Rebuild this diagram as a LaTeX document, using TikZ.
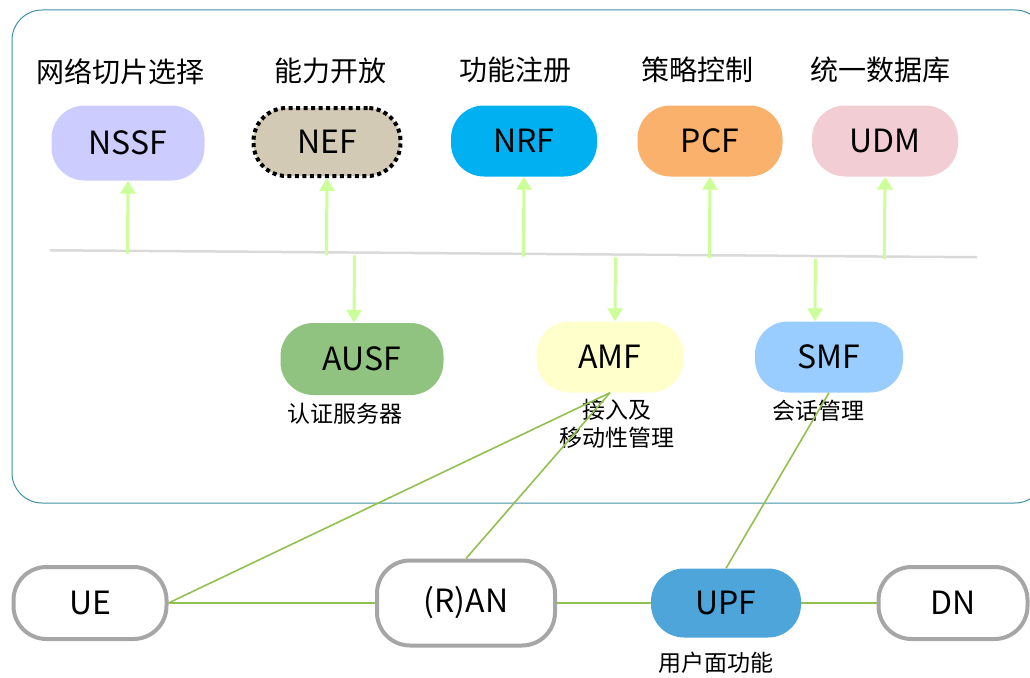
\documentclass[tikz,border=0pt]{standalone}
\usepackage{fontspec}
\setmainfont{Noto Sans CJK SC}
\usepackage{tikz}
\usetikzlibrary{arrows.meta,positioning,calc}
\definecolor{frameblue}{HTML}{3D8FA6}
\definecolor{linkgreen}{HTML}{92C050}
\definecolor{arrowgreen}{HTML}{CCFF99}
\definecolor{nssfcol}{HTML}{CCCCFF}
\definecolor{nefcol}{HTML}{D3CAB5}
\definecolor{nrfcol}{HTML}{00B0F0}
\definecolor{pcfcol}{HTML}{F9B16B}
\definecolor{udmcol}{HTML}{F2CED4}
\definecolor{ausfcol}{HTML}{90C280}
\definecolor{amfcol}{HTML}{FFFFCC}
\definecolor{smfcol}{HTML}{99CCFF}
\definecolor{upfcol}{HTML}{4EA5D9}
\definecolor{edgegray}{HTML}{A6A6A6}

\begin{document}
\begin{tikzpicture}[x=1pt,y=-1pt,% pixel-like units, y grows downward
			every node/.style={
				align=center,		% so that "\\" breaks lines
				inner sep=0pt
			},
			nf/.style={
				rectangle,rounded corners=33pt,
				minimum width=147pt,minimum height=71pt,
				font=\fontsize{32}{34}\selectfont
			},
			endpt/.style={
				nf,draw=edgegray,line width=4pt,fill=white
			},
			caption/.style={font=\fontsize{28}{30}\selectfont},
			subcaption/.style={font=\fontsize{23}{28}\selectfont},
			feed/.style={draw=arrowgreen,line width=3pt,
				-{Triangle[length=13pt,width=15pt]}},
			link/.style={draw=linkgreen,line width=1.6pt},
			trunk/.style={draw=linkgreen,line width=2.6pt}
		]
		\useasboundingbox (0,0) rectangle (1030,677);
		% control plane frame
		\draw[frameblue,line width=1pt,rounded corners=30pt] (12,10) rectangle (1045,503);

		% top row of network functions
		\node[nf,fill=nssfcol,minimum width=153pt,minimum height=75pt](nssf) at (128,143){NSSF};
		\node[nf,fill=nefcol,draw=black,line width=4pt,dash pattern=on 4pt off 3.5pt,
			minimum width=147pt,minimum height=68pt](nef) at (327,142){NEF};
		\node[nf,fill=nrfcol,minimum width=146pt](nrf) at (524,141){NRF};
		\node[nf,fill=pcfcol,minimum width=145pt](pcf) at (710,141){PCF};
		\node[nf,fill=udmcol,minimum width=146pt](udm) at (885,141){UDM};

		\node[caption](l1)[above=20pt of nssf,xshift=-8pt]{网络切片选择};
		\node[caption](l2)[above=22pt of nef,xshift=3pt]{能力开放};
		\node[caption](l3)[above=22pt of nrf,xshift=-9pt]{功能注册};
		\node[caption](l4)[above=22pt of pcf,xshift=-13pt]{策略控制};
		\node[caption](l5)[above=22pt of udm,xshift=-5pt]{统一数据库};

		% service bus
		\coordinate (bl) at (50,253);
		\coordinate (br) at (977,260);
		\draw[gray!30,line width=3pt] ([yshift=2.5pt]bl) -- ([yshift=2.5pt]br);
		\draw[white,line width=3pt] (bl) -- (br);

		% middle row
		\node[nf,fill=ausfcol,minimum width=163pt,minimum height=72pt](ausf) at (362,359){AUSF};
		\node[nf,fill=amfcol](amf) at (610,357){AMF};
		\node[nf,fill=smfcol,minimum width=148pt](smf) at (829,357){SMF};

		\node[subcaption](l6)[below=8pt of ausf,xshift=-17pt]{认证服务器};
		\node[subcaption](l7)[below=6pt of amf,xshift=7pt]{接入及\\移动性管理};
		\node[subcaption](l8)[below=7pt of smf,xshift=-11pt]{会话管理};

		% user plane
		\node[endpt,minimum width=153pt,minimum height=72pt](ue) at (90,603){UE};
		\node[endpt,minimum width=178pt,minimum height=85pt](ran) at (466,603){(R)AN};
		\node[nf,fill=upfcol,minimum width=150pt,minimum height=69pt](upf) at (726,603){UPF};
		\node[endpt,minimum width=149pt,minimum height=72pt](dn) at (953,603){DN};

		\node[subcaption](l9)[below=14pt of upf,xshift=-10pt]{用户面功能};

		% arrows between bus and functions
		\foreach \nf in {nssf,nef,nrf,pcf,udm}
			\draw[feed] ($(bl)!(\nf.south)!(br)$) -- (\nf.south);
		\coordinate (a1) at ([xshift=-8pt]ausf.north);
		\coordinate (a2) at ([xshift=5pt]amf.north);
		\coordinate (a3) at ([xshift=-14pt]smf.north);
		\foreach \a in {a1,a2,a3}
			\draw[feed] ($(bl)!(\a)!(br)$) -- (\a);

		% links
		\path[trunk]
		(ue.east) edge (ran.west)
		(ran.east) edge (upf.west)
		(upf.east) edge (dn.west)
		;
		\path[link]
		(ue.east) edge (amf.south)
		(ran.north) edge (amf.south)
		(upf.north) edge (smf.south)
		;
	\end{tikzpicture}
\end{document}
